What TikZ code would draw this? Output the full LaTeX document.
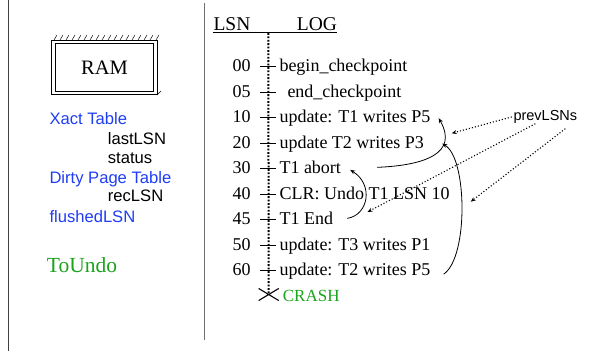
\documentclass[tikz,border=0pt]{standalone}
\usepackage{fontspec}
\setmainfont{Liberation Serif}
\setsansfont{Liberation Sans}
\usetikzlibrary{arrows.meta,shapes.misc}
\definecolor{ariesBlue}{HTML}{1F3DF5}
\definecolor{ariesGreen}{HTML}{1BA31B}
\definecolor{ariesGray}{HTML}{6E6E6E}

\begin{document}
\begin{tikzpicture}[x=1pt, y=-1pt,
  every node/.style={inner sep=0pt, anchor=base west},
  logtxt/.style={font=\fontsize{18}{20}\selectfont},
  lsnnum/.style={font=\fontsize{18}{20}\selectfont, anchor=base east},
  hdr/.style={font=\fontsize{19.5}{22}\selectfont},
  ramvar/.style={font=\sffamily\fontsize{16.6}{18}\selectfont, ariesBlue},
  ramfld/.style={font=\sffamily\fontsize{16.6}{18}\selectfont},
  undo/.style={font=\fontsize{21.5}{24}\selectfont, ariesGreen},
  ramnode/.style={draw, double, double distance=2.5pt, line width=0.8pt, minimum width=102pt, minimum height=51pt, anchor=center, font=\fontsize{20.5}{22}\selectfont},
  ptr/.style={-{Stealth[length=5pt,width=4pt]}, line width=0.8pt},
  prevptr/.style={-{Stealth[length=5pt,width=4pt]}, line width=1.1pt, dotted},
  logline/.style={line width=2pt, dash pattern=on 1.8pt off 1.6pt},
]
  \useasboundingbox (0,0) rectangle (591,351);

  % dividers
  \draw[line width=1pt, black!75] (8,0) -- (8,351);
  \draw[line width=1pt, ariesGray] (204.5,3) -- (204.5,340);

  % RAM side
  \node[ramnode] (ram) at (104.5,67.5) {RAM};
  \draw[line width=0.5pt] \foreach \i in {0,...,17} {(54+\i*6,40) -- ++(3,-5)};
  \draw[line width=0.5pt] (157,95) -- ++(4,-4);

  \node[ramvar] (xact) at (49.3,124) {Xact Table};
  \node[ramfld] (lastlsn) at (107.7,144.3) {lastLSN};
  \node[ramfld] (status) at (107.7,163) {status};
  \node[ramvar] (dpt) at (49.3,183.3) {Dirty Page Table};
  \node[ramfld] (reclsn) at (107.7,201.7) {recLSN};
  \node[ramvar] (flushed) at (49.3,222.3) {flushedLSN};
  \node[undo] (toundo) at (46.7,272.7) {ToUndo};

  % log side
  \node[hdr] (lsnhd) at (213.3,30.5) {LSN};
  \node[hdr] (loghd) at (296.7,30.5) {LOG};
  \draw[line width=1pt] ([yshift=-2pt]lsnhd.base west) -- ([yshift=-2pt]loghd.base east);

  \node[lsnnum] (n00) at (250.7,71.5) {00};
  \node[logtxt] (e00) at (279.3,71.5) {begin\_checkpoint};
  \node[lsnnum] (n05) at (250.7,97) {05};
  \node[logtxt] (e05) at (287.3,97) {end\_checkpoint};
  \node[lsnnum] (n10) at (250.7,122.5) {10};
  \node[logtxt] (e10) at (279.3,122.5) {update: T1 writes P5};
  \node[lsnnum] (n20) at (250.7,148) {20};
  \node[logtxt] (e20) at (279.3,148) {update T2 writes P3};
  \node[lsnnum] (n30) at (250.7,173.5) {30};
  \node[logtxt] (e30) at (279.3,173.5) {T1 abort};
  \node[lsnnum] (n40) at (250.7,199) {40};
  \node[logtxt] (e40) at (279.3,199) {CLR: Undo T1 LSN 10};
  \node[lsnnum] (n45) at (250.7,224.5) {45};
  \node[logtxt] (e45) at (279.3,224.5) {T1 End};
  \node[lsnnum] (n50) at (250.7,250) {50};
  \node[logtxt] (e50) at (279.3,250) {update: T3 writes P1};
  \node[lsnnum] (n60) at (250.7,275.5) {60};
  \node[logtxt] (e60) at (279.3,275.5) {update: T2 writes P5};

  \node[draw, cross out, line width=1.1pt, minimum width=19pt, minimum height=11pt, anchor=center] (crashx) at (268.7,294.5) {};
  \node[font=\fontsize{17}{19}\selectfont, ariesGreen] (crash) at (282.7,301.5) {CRASH};

  \coordinate (logtop) at (268.3,33);
  \draw[logline] (logtop) -- (crashx.center);
  \foreach \i in {0,...,8}
    \draw[line width=1pt] (260,66.5+25.5*\i) -- (276,66.5+25.5*\i);

  % undo chain
  \draw[ptr] ([xshift=36pt]e30.east) .. controls +(48,-2) and +(20,35) .. ([xshift=8pt]e10.east);
  \draw[ptr] ([xshift=13pt,yshift=-3pt]e60.east) .. controls +(25,-17) and +(25,14) .. ([xshift=18pt]e20.east);
  \draw[ptr] ([xshift=14pt]e45.east) .. controls +(21,-3) and +(24,15) .. ([xshift=9pt,yshift=-2.5pt]e30.east);

  % prevLSNs
  \node[font=\sffamily\fontsize{14.5}{16}\selectfont] (prevlsn) at (513.3,120.5) {prevLSNs};
  \coordinate (tipA) at (451.7,133.3);
  \coordinate (tipB) at (367.5,212);
  \coordinate (tipC) at (470.7,201.7);
  \draw[prevptr] ([xshift=-1.5pt]prevlsn.west) -- (tipA);
  \draw[prevptr] ([xshift=-10pt]prevlsn.south) -- (tipB);
  \draw[prevptr] ([xshift=20pt,yshift=-5pt]prevlsn.south) -- (tipC);
\end{tikzpicture}
\end{document}
